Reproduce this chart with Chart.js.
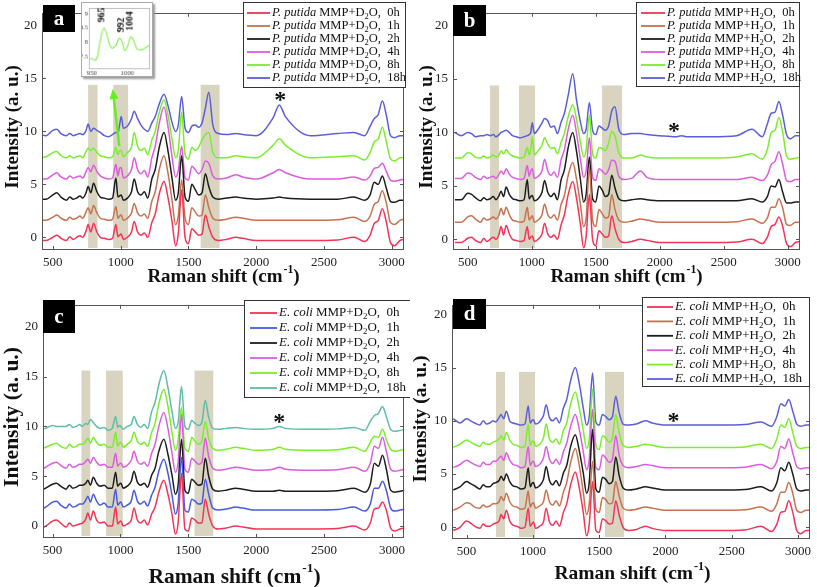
<!DOCTYPE html>
<html><head><meta charset="utf-8">
<script src="https://cdn.jsdelivr.net/npm/chart.js@4.4.1/dist/chart.umd.min.js"></script>
<style>
html,body{margin:0;padding:0;background:#fff;}
#wrap{position:relative;width:817px;height:587px;overflow:hidden;background:#fff;}
canvas{position:absolute;display:block;}
#ca{left:0;top:0;width:410px;height:292px;}
#cb{left:410px;top:0;width:407px;height:292px;}
#cc{left:0;top:292px;width:410px;height:295px;}
#cd{left:410px;top:292px;width:407px;height:295px;}
#ins{left:81px;top:2px;width:72px;height:75px;border:1px solid #aaa;box-shadow:2px 2px 2px #999;background:#fff;z-index:5;}
</style></head><body><div id="wrap">
<canvas id="ca" width="410" height="292"></canvas>
<canvas id="cb" width="407" height="292"></canvas>
<canvas id="cc" width="410" height="295"></canvas>
<canvas id="cd" width="407" height="295"></canvas>
<canvas id="ins" width="72" height="75"></canvas>
</div>
<script>
// ---------- data ----------
const ramanShift = [400,450,500,530,560,600,625,650,675,700,
 720,745,760,780,800,825,850,880,910,940,
 965,980,992,1004,1020,1050,1080,1100,1125,1150,
 1175,1200,1230,1255,1285,1320,1350,1380,1405,1425,
 1450,1475,1500,1525,1550,1575,1600,1625,1650,1680,
 1720,1780,1850,1900,2000,2125,2170,2215,2400,2600,
 2720,2800,2840,2870,2900,2930,2960,2990,3020,3060,3100];
const timeLabels = ['0h','1h','2h','4h','8h','18h'];
const xTickValues = [500,1000,1500,2000,2500,3000];
const yTickValues = [0,5,10,15,20];

// (a) P. putida MMP+D2O
const aRed = [-0.3,-0.3,0.0,0.2,-0.1,-0.3,0.05,-0.2,0.0,0.15, 0.0,0.6,1.2,0.5,1.3,0.5,0.0,-0.1,-0.2,-0.1, 1.2,0.05,0.2,0.3,-0.2,0.0,0.5,1.5,0.5,0.2, 0.4,0.0,1.4,2.2,4.1,5.3,3.7,1.4,-0.8,0.3, 4.5,0.0,-0.6,0.8,0.5,0.2,0.3,2.1,1.0,0.0, -0.3,-0.2,0.0,-0.1,-0.3,-0.3,-0.3,-0.3,-0.3,-0.25, 0.0,-0.4,0.2,1.3,1.6,2.7,1.4,-0.5,-0.8,-0.3,-0.2];
const aBrown = [1.6,1.6,1.9,2.1,1.8,1.6,1.9,1.7,1.8,2.0, 1.8,2.4,2.8,2.2,3.0,2.3,1.8,1.7,1.6,1.7, 2.9,1.8,2.0,2.1,1.6,1.8,2.3,3.2,2.3,2.0, 2.2,1.8,3.4,4.3,6.4,7.7,6.0,3.4,1.2,2.0, 5.4,1.8,1.2,2.8,2.4,2.0,2.1,4.0,2.8,1.8, 1.6,1.7,1.9,1.8,1.6,1.6,1.6,1.6,1.6,1.65, 1.9,1.5,2.0,3.1,3.4,4.4,3.2,1.4,1.2,1.6,1.7];
const aBlack = [3.6,3.6,4.0,4.2,3.8,3.5,3.8,3.6,3.7,3.9, 3.7,4.2,4.8,4.2,5.1,4.3,3.8,3.7,3.6,3.7, 5.6,3.8,3.9,4.0,3.5,3.7,4.3,5.5,4.3,4.0, 4.3,3.7,5.5,6.4,8.5,9.9,8.1,5.5,3.5,4.2, 7.7,3.8,3.4,5.0,4.5,4.0,4.2,6.0,4.8,3.8, 3.6,3.7,3.8,3.7,3.6,3.7,3.8,3.7,3.6,3.6, 3.8,3.5,4.0,5.2,5.0,5.8,4.6,3.4,3.3,3.5,3.5];
const aMagenta = [5.5,5.5,5.9,6.1,5.7,5.5,5.8,5.6,5.7,5.8, 5.6,6.2,6.6,6.2,6.8,6.2,5.8,5.6,5.5,5.6, 6.9,5.8,6.5,6.6,5.6,5.8,6.4,7.5,6.4,6.0, 6.3,5.7,7.5,8.6,10.8,12.3,10.4,7.5,5.7,6.3, 8.6,5.6,5.4,6.7,6.4,6.0,6.4,7.2,7.0,5.8, 5.5,5.6,5.9,5.7,5.5,6.1,6.4,6.1,5.5,5.5, 5.7,5.4,5.8,6.5,6.6,7.0,6.2,5.4,5.3,5.4,5.5];
const aGreen = [7.5,7.6,8.0,8.1,7.7,7.5,7.7,7.5,7.6,7.7, 7.5,8.1,8.4,8.2,8.4,8.0,7.7,7.6,7.5,7.6, 8.5,7.8,8.2,8.2,7.6,8.0,8.5,9.9,8.6,8.2, 8.4,7.8,9.2,10.0,11.8,13.0,11.5,9.2,7.5,8.2, 11.8,7.8,7.4,8.5,8.2,8.5,9.2,9.7,9.9,8.0, 7.5,7.5,7.7,7.6,7.5,8.7,9.3,8.7,7.5,7.6, 7.7,7.3,8.0,9.0,9.3,10.4,9.0,7.4,7.2,7.5,7.5];
const aBlue = [9.7,9.6,10.1,10.2,9.8,9.6,9.8,9.6,9.7,9.8, 9.7,10.1,10.7,10.0,10.3,10.1,9.9,9.6,9.5,9.7, 9.9,9.8,10.6,11.4,10.3,10.5,11.2,11.9,11.2,10.6, 10.2,10.0,10.8,11.4,12.6,13.5,12.4,10.8,10.0,10.6, 13.3,10.3,9.9,10.5,10.6,10.4,10.8,12.2,13.7,10.6, 9.8,9.7,9.8,9.7,9.6,11.3,12.5,11.4,9.6,9.8, 9.9,9.6,10.5,11.2,11.6,12.9,11.5,9.6,9.4,9.6,9.6];

// (b) P. putida MMP+H2O
const bRed = [-0.3,-0.3,0.1,0.2,-0.1,-0.3,0.1,-0.2,0.0,0.2, 0.0,0.5,1.2,0.4,1.3,0.5,0.0,-0.1,-0.2,-0.1, 1.2,0.0,0.2,0.3,-0.2,0.0,0.5,1.5,0.5,0.2, 0.4,0.0,1.4,2.3,4.2,5.4,3.8,1.4,-0.8,0.3, 4.2,0.0,-0.6,0.8,0.5,0.2,0.3,2.2,1.0,0.0, -0.3,-0.2,0.0,-0.1,-0.3,-0.3,-0.3,-0.3,-0.3,-0.25, 0.0,-0.4,0.2,1.2,1.4,2.1,1.2,-0.4,-0.7,-0.3,-0.2];
const bBrown = [1.6,1.6,2.1,2.2,1.9,1.6,2.0,1.8,1.9,2.1, 1.9,2.3,2.9,2.3,3.0,2.3,1.8,1.7,1.6,1.7, 3.0,1.8,2.0,2.2,1.6,1.8,2.3,3.3,2.3,2.0, 2.3,1.8,3.3,4.1,6.0,7.2,5.6,3.3,1.2,2.0, 6.8,1.8,1.2,2.8,2.4,2.0,2.1,4.2,2.8,1.8, 1.6,1.7,1.9,1.8,1.6,1.6,1.6,1.6,1.6,1.65, 1.9,1.5,2.0,3.0,3.0,3.8,2.9,1.4,1.3,1.6,1.6];
const bBlack = [3.7,3.7,4.3,4.2,3.9,3.6,3.9,3.7,3.8,4.0, 3.7,4.1,4.5,4.0,4.9,4.2,3.8,3.7,3.6,3.7, 5.6,3.8,4.0,4.1,3.6,3.8,4.4,5.5,4.4,4.0, 4.3,3.7,5.6,6.5,8.6,10.0,8.2,5.6,3.5,4.2, 7.7,3.8,3.5,5.0,4.6,4.0,4.2,6.0,4.8,3.8, 3.6,3.7,3.8,3.7,3.6,3.6,3.6,3.6,3.6,3.6, 3.8,3.5,4.0,5.0,4.9,5.6,4.4,3.4,3.4,3.5,3.5];
const bMagenta = [5.7,5.7,6.2,6.1,5.8,5.6,5.9,5.7,5.8,5.9, 5.7,6.1,6.4,6.1,6.6,6.1,5.8,5.7,5.6,5.7, 6.9,5.9,6.4,6.6,5.7,5.9,6.4,7.5,6.4,6.0, 6.3,5.8,7.5,8.4,10.3,11.6,9.9,7.5,5.8,6.4, 9.5,5.8,5.5,6.6,6.4,6.1,6.5,7.4,7.3,5.9, 5.6,5.7,6.4,5.8,5.6,5.6,5.6,5.6,5.6,5.6, 5.8,5.5,6.0,7.0,7.3,8.2,7.0,5.5,5.4,5.6,5.6];
const bGreen = [7.6,7.6,8.1,8.0,7.7,7.6,7.8,7.6,7.7,7.9, 7.7,7.9,8.3,8.0,8.4,8.0,7.8,7.7,7.6,7.7, 8.6,7.9,8.4,9.6,7.9,8.3,8.8,9.5,8.9,8.5, 8.6,8.0,9.1,9.9,11.5,12.6,11.2,9.1,7.7,8.4, 11.6,8.0,7.6,8.6,8.5,8.3,9.0,10.1,9.7,8.1, 7.6,7.6,7.9,7.7,7.6,7.6,7.6,7.6,7.6,7.7, 8.0,7.5,8.4,10.0,10.2,11.4,10.0,7.8,7.5,7.6,7.7];
const bBlue = [10.0,9.7,10.0,9.9,9.6,9.7,9.7,9.8,9.7,9.8, 9.6,9.8,10.0,10.1,10.2,10.0,9.7,9.6,9.5,9.6, 9.7,9.8,10.0,10.9,9.9,10.3,10.9,11.3,11.1,10.5, 10.6,9.9,11.0,11.8,13.5,15.5,13.0,11.0,9.9,10.3, 12.8,10.2,9.8,10.6,10.4,10.2,10.6,12.0,12.4,10.3, 9.8,9.9,9.9,9.8,9.7,9.6,9.7,9.6,9.6,9.7, 10.3,9.6,10.8,11.8,11.9,12.9,11.6,9.8,9.4,9.7,9.7];

// (c) E. coli MMP+D2O
const cRed = [-0.3,0.0,0.5,0.6,0.3,-0.1,0.3,0.0,0.1,0.2, 0.3,0.7,1.3,0.6,1.5,0.6,0.3,0.4,0.0,0.0, 1.9,0.2,0.4,0.5,0.0,0.2,0.6,1.8,0.6,0.3, 0.6,0.1,1.2,1.9,3.5,4.6,3.2,1.2,-0.8,0.3, 5.3,-0.3,-0.5,0.8,0.6,0.3,0.3,2.7,1.2,0.0, -0.3,-0.2,0.0,-0.1,-0.3,-0.3,-0.3,-0.3,-0.3,-0.25, 0.0,-0.4,0.3,1.7,1.8,2.4,1.5,-0.2,-0.5,-0.3,-0.2];
const cBlue = [1.6,1.9,2.4,2.5,2.1,1.8,2.2,1.9,2.0,2.2, 2.2,2.6,3.0,2.4,3.2,2.5,2.1,2.3,1.9,1.9, 3.7,2.1,2.3,2.4,1.9,2.1,2.5,3.6,2.5,2.2, 2.5,2.0,3.1,3.9,5.6,6.7,5.3,3.1,1.2,2.2, 6.9,1.6,1.4,2.7,2.5,2.2,2.3,4.7,3.2,1.8, 1.6,1.7,1.9,1.8,1.6,1.6,1.6,1.6,1.6,1.65, 1.9,1.5,2.2,3.8,3.8,4.5,3.5,1.8,1.5,1.6,1.7];
const cBlack = [3.5,3.8,4.2,4.3,4.0,3.7,4.1,3.8,3.9,4.1, 4.1,4.3,4.6,4.1,4.9,4.3,4.0,4.1,3.8,3.8, 5.4,4.0,4.2,4.3,3.8,4.0,4.5,5.5,4.4,4.1, 4.3,3.9,5.1,5.8,7.6,8.7,7.2,5.1,3.2,4.1, 8.7,3.6,3.3,4.7,4.4,4.1,4.2,6.8,5.0,3.7, 3.5,3.6,3.8,3.7,3.5,3.5,3.6,3.5,3.5,3.55, 3.8,3.4,4.2,6.3,6.0,7.1,5.6,3.6,3.4,3.5,3.6];
const cMagenta = [5.6,5.9,6.3,6.4,6.1,5.8,6.2,5.9,6.0,6.2, 6.2,6.5,6.7,6.3,6.9,6.4,6.1,6.2,5.9,5.9, 7.3,6.0,6.2,6.3,5.9,6.1,6.6,7.5,6.5,6.2, 6.4,6.0,7.3,8.2,10.1,11.4,9.8,7.3,5.4,6.4, 11.2,5.7,5.4,6.8,6.5,6.2,6.4,8.8,7.0,5.8, 5.6,5.7,5.9,5.8,5.6,5.7,5.9,5.7,5.6,5.65, 5.9,5.5,6.3,8.0,7.8,8.9,7.4,5.7,5.5,5.6,5.7];
const cGreen = [7.6,7.9,8.2,8.3,8.0,7.8,8.2,7.9,8.0,8.2, 8.2,8.5,8.8,8.3,8.9,8.4,8.1,8.2,7.9,7.9, 9.4,8.0,8.3,8.4,7.9,8.2,8.6,9.4,8.5,8.2, 8.4,8.0,9.4,10.3,12.4,13.7,12.0,9.4,7.6,8.6, 11.9,7.8,7.5,8.9,8.5,8.2,8.5,10.5,8.8,7.8, 7.6,7.7,7.9,7.8,7.6,7.7,7.9,7.7,7.6,7.65, 7.9,7.5,8.4,9.0,8.9,9.7,8.6,7.7,7.5,7.6,7.7];
const cTeal = [9.7,9.8,10.1,10.0,10.0,10.0,10.2,9.9,10.0,10.2, 10.0,10.3,10.2,10.7,10.4,10.0,9.8,9.9,9.6,9.8, 11.0,9.9,10.1,10.0,9.7,10.0,10.2,11.0,10.2,9.9, 10.2,9.8,11.5,12.4,14.3,15.6,13.9,11.5,9.8,10.4, 14.0,10.0,9.7,10.6,10.3,10.1,10.4,12.6,10.9,9.8, 9.7,9.8,9.9,9.8,9.7,9.8,10.0,9.8,9.7,9.75, 9.9,9.6,10.5,11.1,11.3,12.0,10.9,9.7,9.5,9.6,9.7];

// (d) E. coli MMP+H2O
const dRed = [-0.3,0.0,0.6,0.4,0.1,-0.1,0.3,0.1,0.1,0.3, 0.4,0.6,1.2,0.8,1.6,0.6,0.2,0.1,-0.1,0.0, 1.8,0.1,0.3,0.5,-0.1,0.1,0.5,1.8,0.5,0.2, 0.6,0.1,1.4,2.2,4.0,5.2,3.7,1.4,-0.8,0.3, 4.3,-0.3,-0.5,0.8,0.6,0.3,0.4,2.5,1.2,0.0, -0.3,-0.2,0.1,-0.1,-0.3,-0.3,-0.3,-0.3,-0.3,-0.25, 0.1,-0.4,0.3,1.4,1.5,2.5,1.4,-0.3,-0.6,-0.3,-0.3];
const dBrown = [1.6,1.9,2.3,2.2,1.9,1.8,2.1,1.9,2.0,2.2, 2.2,2.4,2.9,2.5,3.2,2.4,2.0,1.9,1.7,1.8, 3.4,1.9,2.2,2.3,1.8,2.0,2.4,3.5,2.4,2.1, 2.5,2.0,3.3,4.2,6.1,7.4,5.8,3.3,1.2,2.2, 6.2,1.7,1.4,2.8,2.6,2.2,2.3,4.3,3.0,1.8, 1.6,1.7,1.9,1.8,1.6,1.6,1.6,1.6,1.6,1.65, 1.9,1.5,2.2,3.3,3.3,4.2,3.2,1.6,1.4,1.6,1.6];
const dBlack = [3.5,3.8,4.3,4.1,3.9,3.6,4.0,3.8,3.8,4.1, 4.2,4.4,4.8,4.4,5.0,4.3,3.9,3.8,3.6,3.7, 5.6,3.8,4.1,4.2,3.7,3.9,4.5,5.7,4.4,4.0, 4.4,3.9,5.1,5.8,7.6,8.7,7.2,5.1,3.2,4.2, 9.2,3.6,3.3,4.7,4.5,4.1,4.3,6.6,4.9,3.7, 3.5,3.6,3.8,3.7,3.5,3.5,3.5,3.5,3.5,3.55, 3.8,3.4,4.2,5.6,5.3,6.1,5.0,3.6,3.4,3.5,3.5];
const dMagenta = [5.6,5.9,6.3,6.1,5.9,5.7,6.1,5.9,5.9,6.2, 6.2,6.5,6.7,6.3,7.0,6.3,5.9,5.8,5.6,5.7, 7.6,5.8,6.1,6.2,5.7,5.9,6.5,7.6,6.4,6.0, 6.4,5.9,7.1,7.9,9.5,10.6,9.2,7.1,5.4,6.4, 11.1,5.6,5.4,6.8,6.5,6.1,6.4,8.6,6.8,5.8, 5.6,5.7,5.9,5.8,5.6,5.6,5.6,5.6,5.6,5.65, 5.9,5.5,6.2,7.6,7.4,8.3,7.0,5.7,5.5,5.6,5.6];
const dGreen = [7.5,7.8,8.2,8.0,7.8,7.6,8.0,7.8,7.8,8.0, 8.1,8.3,8.6,8.2,8.9,8.2,7.8,7.7,7.5,7.6, 9.7,7.7,8.0,8.1,7.6,7.8,8.4,9.7,8.3,8.0, 8.3,7.8,9.1,9.8,11.6,12.7,11.2,9.1,7.4,8.3, 13.0,7.7,7.3,8.6,8.4,8.0,8.4,10.6,8.9,7.7, 7.5,7.6,7.8,7.7,7.5,7.5,7.5,7.5,7.5,7.55, 7.8,7.4,8.3,9.6,9.4,10.2,8.9,7.6,7.4,7.5,7.5];
const dBlue = [10.2,9.8,10.2,10.0,9.8,9.6,10.0,9.7,9.8,10.0, 9.9,10.3,10.6,10.2,10.9,10.0,9.8,9.7,9.6,9.7, 11.4,9.8,10.0,10.1,9.7,9.9,10.5,11.5,10.3,10.0, 10.3,9.8,11.2,12.0,13.8,15.0,13.5,11.2,9.6,10.4, 14.5,9.9,9.6,10.6,10.4,10.1,10.4,12.3,10.8,9.7, 9.6,9.7,10.0,9.8,9.6,9.6,9.6,9.6,9.6,9.65, 9.9,9.5,10.4,11.6,11.4,12.0,10.9,9.7,9.5,9.6,9.6];

// inset of (a): 8h spectrum, 945-1032 cm-1
const insetShift = [945,950,954,958,962,967,971,975,979,984,989,993,996,1000,1005,1009,1013,1017,1022,1027,1032];
const insetGreen = [7.42,7.45,7.38,7.5,8.05,8.5,8.3,7.95,7.8,7.9,8.15,8.0,7.72,7.85,8.2,8.05,7.8,7.74,7.76,7.84,7.92];
const insetPeakLabels = [965,992,1004];
const insetPeakHeights = [8.5,8.15,8.2];
const insetXTicks = [950,1000];
const insetYTicks = [7.5,8,8.5,9];

// ---------- styling ----------
const SERIF = "'Liberation Serif','Times New Roman',serif";
const RED='#f23457', BROWN='#c6714f', BLACK='#1c1c1c', MAG='#dc5cde', GREEN='#7bee2c', BLUE='#5a5fd8', TEAL='#5dbda6', BLUE1='#4759df';
const BAND='#d8d4c0';

function drawXTitle(ctx, cx, cy, fs){
  const a='Raman shift (cm', s='-1', e=')';
  ctx.font=`bold ${fs}px ${SERIF}`; const w1=ctx.measureText(a).width, w3=ctx.measureText(e).width;
  ctx.font=`bold ${fs*0.62}px ${SERIF}`; const w2=ctx.measureText(s).width;
  let x=cx-(w1+w2+w3)/2;
  ctx.textAlign='left'; ctx.textBaseline='middle'; ctx.fillStyle='#111';
  ctx.font=`bold ${fs}px ${SERIF}`; ctx.fillText(a,x,cy); x+=w1;
  ctx.font=`bold ${fs*0.62}px ${SERIF}`; ctx.fillText(s,x+1,cy-fs*0.38); x+=w2+1;
  ctx.font=`bold ${fs}px ${SERIF}`; ctx.fillText(e,x,cy);
}

function makePanel(o){
  const overlay = {
    id:'overlay_'+o.id,
    beforeDatasetsDraw(chart){
      const {ctx, chartArea:a, scales:{x,y}} = chart;
      ctx.save(); ctx.beginPath(); ctx.rect(a.left,a.top,a.width,a.height); ctx.clip();
      ctx.fillStyle=BAND;
      const py=y.getPixelForValue(o.bandTop);
      o.bands.forEach(([b0,b1])=>{
        const p0=x.getPixelForValue(b0), p1=x.getPixelForValue(b1);
        ctx.fillRect(p0,py,p1-p0,a.bottom-py-2);
      });
      ctx.restore();
    },
    afterDatasetsDraw(chart){
      const {ctx, chartArea:a, scales:{x,y}} = chart;
      ctx.save();
      ctx.strokeStyle='#555'; ctx.lineWidth=1;
      ctx.strokeRect(Math.round(a.left)+0.5,Math.round(a.top)+0.5,Math.round(a.width)-1,Math.round(a.height)-1);
      ctx.beginPath();
      xTickValues.forEach(v=>{const p=Math.round(x.getPixelForValue(v))+0.5; ctx.moveTo(p,a.bottom); ctx.lineTo(p,a.bottom-4); ctx.moveTo(p,a.top); ctx.lineTo(p,a.top+4);});
      yTickValues.forEach(v=>{const p=Math.round(y.getPixelForValue(v))+0.5; ctx.moveTo(a.left,p); ctx.lineTo(a.left+4,p); ctx.moveTo(a.right,p); ctx.lineTo(a.right-4,p);});
      ctx.stroke();
      ctx.fillStyle='#111'; ctx.font=`bold 24px ${SERIF}`; ctx.textAlign='center'; ctx.textBaseline='alphabetic';
      ctx.fillText('*', x.getPixelForValue(o.star[0]), y.getPixelForValue(o.star[1])+11);
      if(o.arrow){
        const x0=x.getPixelForValue(o.arrow[0][0]), y0=y.getPixelForValue(o.arrow[0][1]);
        const x1=x.getPixelForValue(o.arrow[1][0]), y1=y.getPixelForValue(o.arrow[1][1]);
        const ang=Math.atan2(y1-y0,x1-x0);
        ctx.strokeStyle='#66ee22'; ctx.fillStyle='#66ee22'; ctx.lineWidth=2.5;
        ctx.beginPath(); ctx.moveTo(x0,y0); ctx.lineTo(x1-7*Math.cos(ang),y1-7*Math.sin(ang)); ctx.stroke();
        ctx.beginPath(); ctx.moveTo(x1,y1);
        ctx.lineTo(x1-10*Math.cos(ang)+4.5*Math.sin(ang), y1-10*Math.sin(ang)-4.5*Math.cos(ang));
        ctx.lineTo(x1-10*Math.cos(ang)-4.5*Math.sin(ang), y1-10*Math.sin(ang)+4.5*Math.cos(ang));
        ctx.closePath(); ctx.fill();
      }
      const L=o.legend;
      ctx.fillStyle='#fff'; ctx.fillRect(L.x,L.y,L.w,L.h);
      ctx.strokeStyle='#333'; ctx.lineWidth=1; ctx.strokeRect(L.x+0.5,L.y+0.5,L.w-1,L.h-1);
      chart.data.datasets.forEach((ds,i)=>{
        const yy=L.row0+i*L.dy;
        ctx.strokeStyle=ds.borderColor; ctx.lineWidth=1.8;
        ctx.beginPath(); ctx.moveTo(L.lx0,yy); ctx.lineTo(L.lx1,yy); ctx.stroke();
        let tx=L.tx; ctx.fillStyle='#111'; ctx.textAlign='left'; ctx.textBaseline='middle';
        ctx.font=`italic ${L.fs}px ${SERIF}`; ctx.fillText(o.species,tx,yy); tx+=ctx.measureText(o.species).width+3;
        ctx.font=`${L.fs}px ${SERIF}`; const t1='MMP+'+o.atom; ctx.fillText(t1,tx,yy); tx+=ctx.measureText(t1).width;
        ctx.font=`${L.fs*0.68}px ${SERIF}`; ctx.fillText('2',tx,yy+4); tx+=ctx.measureText('2').width;
        ctx.font=`${L.fs}px ${SERIF}`; ctx.fillText('O,  '+timeLabels[i],tx,yy);
      });
      const B=o.letterBox;
      ctx.fillStyle='#000'; ctx.fillRect(B[0],B[1],B[2],B[3]);
      ctx.fillStyle='#fff'; ctx.font=`bold 21px ${SERIF}`; ctx.textAlign='center'; ctx.textBaseline='middle';
      ctx.fillText(o.letter,B[0]+B[2]/2,B[1]+B[3]/2+1);
      ctx.restore();
    },
    afterDraw(chart){
      const ctx=chart.ctx; ctx.save();
      ctx.fillStyle='#111'; ctx.font=`bold ${o.titleSize}px ${SERIF}`;
      ctx.translate(o.yTitle[0],o.yTitle[1]); ctx.rotate(-Math.PI/2);
      ctx.textAlign='center'; ctx.textBaseline='middle'; ctx.fillText('Intensity (a. u.)',0,0);
      ctx.restore();
      ctx.save(); drawXTitle(ctx,o.xTitle[0],o.xTitle[1],o.titleSize); ctx.restore();
    }
  };
  const datasets=o.series.map((s,i)=>({
    label:o.species+' MMP+'+o.atom+'2O, '+timeLabels[i],
    data:ramanShift.map((xv,j)=>({x:xv,y:s[j]})),
    borderColor:o.colors[i], borderWidth:1.5, pointRadius:0,
    cubicInterpolationMode:'monotone', fill:false
  }));
  const tickFont={family:SERIF,size:13};
  return new Chart(document.getElementById(o.id),{
    type:'line',
    data:{datasets},
    options:{
      responsive:false, animation:false, devicePixelRatio:1,
      layout:{padding:{left:0,top:o.padTop,right:o.padRight,bottom:0}},
      plugins:{legend:{display:false},tooltip:{enabled:false}},
      scales:{
        x:{type:'linear',min:o.xMin,max:o.xMax,
           afterBuildTicks:s=>{s.ticks=xTickValues.map(v=>({value:v}));},
           afterFit:s=>{s.height=o.xh;},
           grid:{display:false,drawTicks:false},border:{display:false},
           ticks:{font:tickFont,color:'#222',padding:5,maxRotation:0,autoSkip:false,callback:v=>String(v)}},
        y:{type:'linear',min:o.yMin,max:o.yMax,
           afterBuildTicks:s=>{s.ticks=yTickValues.map(v=>({value:v}));},
           afterFit:s=>{s.width=o.yw;},
           grid:{display:false,drawTicks:false},border:{display:false},
           ticks:{font:tickFont,color:'#222',padding:5,callback:v=>String(v)}}
      }
    },
    plugins:[overlay]
  });
}

makePanel({id:'ca',species:'P. putida',atom:'D',series:[aRed,aBrown,aBlack,aMagenta,aGreen,aBlue],
  colors:[RED,BROWN,BLACK,MAG,GREEN,BLUE],xMin:420,xMax:3090,yMin:-1.2,yMax:21.2,yw:42,xh:42,padTop:4,padRight:5,
  bands:[[760,830],[945,1055],[1590,1730]],bandTop:14.4,star:[2177,13.3],letter:'a',letterBox:[43,5,32,27],
  legend:{x:243,y:2,w:163,h:86,row0:13,dy:13,lx0:247,lx1:270,tx:272,fs:12.5},
  titleSize:19,yTitle:[13,127],xTitle:[223,277],arrow:[[990,8.6],[942,14.0]]});
makePanel({id:'cb',species:'P. putida',atom:'H',series:[bRed,bBrown,bBlack,bMagenta,bGreen,bBlue],
  colors:[RED,BROWN,BLACK,MAG,GREEN,BLUE],xMin:385,xMax:3095,yMin:-1.0,yMax:21.2,yw:43,xh:42,padTop:4,padRight:17,
  bands:[[674,744],[901,1026],[1549,1705]],bandTop:14.4,star:[2110,10.5],letter:'b',letterBox:[43,5,33,31],
  legend:{x:226,y:2,w:164,h:85,row0:13,dy:13,lx0:231,lx1:255,tx:257,fs:12.5},
  titleSize:19,yTitle:[17,127],xTitle:[216,277]});
makePanel({id:'cc',species:'E. coli',atom:'D',series:[cRed,cBlue,cBlack,cMagenta,cGreen,cTeal],
  colors:[RED,BLUE1,BLACK,MAG,GREEN,TEAL],xMin:430,xMax:3090,yMin:-1.2,yMax:22.2,yw:43,xh:49,padTop:8,padRight:0,
  bands:[[713,778],[894,1017],[1546,1684]],bandTop:15.6,star:[2170,10.8],letter:'c',letterBox:[43,8,32,33],
  legend:{x:244,y:8,w:170,h:98,row0:21,dy:15,lx0:250,lx1:277,tx:279,fs:13},
  titleSize:21.5,yTitle:[12,125],xTitle:[234,285]});
makePanel({id:'cd',species:'E. coli',atom:'H',series:[dRed,dBrown,dBlack,dMagenta,dGreen,dBlue],
  colors:[RED,BROWN,BLACK,MAG,GREEN,BLUE],xMin:390,xMax:3090,yMin:-1.1,yMax:20.9,yw:42,xh:48,padTop:6,padRight:7,
  bands:[[722,790],[895,1016],[1544,1687]],bandTop:14.6,star:[2060,10.4],letter:'d',letterBox:[43,7,33,30],
  legend:{x:232,y:5,w:168,h:90,row0:15,dy:14.4,lx0:237,lx1:263,tx:265,fs:13},
  titleSize:19.5,yTitle:[11,127],xTitle:[222,282]});

// inset
new Chart(document.getElementById('ins'),{
  type:'line',
  data:{datasets:[{data:insetShift.map((xv,i)=>({x:xv,y:insetGreen[i]})),borderColor:'#88ee55',borderWidth:1.2,pointRadius:0,cubicInterpolationMode:'monotone',fill:false}]},
  options:{responsive:false,animation:false,devicePixelRatio:1,
    layout:{padding:{left:0,top:5,right:2,bottom:0}},
    plugins:{legend:{display:false},tooltip:{enabled:false}},
    scales:{
      x:{type:'linear',min:946,max:1032,afterBuildTicks:s=>{s.ticks=insetXTicks.map(v=>({value:v}));},afterFit:s=>{s.height=7;},
         grid:{display:false,drawTicks:false},border:{display:false},ticks:{font:{family:SERIF,size:7},color:'#444',padding:0,maxRotation:0,autoSkip:false,callback:v=>String(v)}},
      y:{type:'linear',min:7.07,max:9.2,afterBuildTicks:s=>{s.ticks=insetYTicks.map(v=>({value:v}));},afterFit:s=>{s.width=7;},
         grid:{display:false,drawTicks:false},border:{display:false},ticks:{font:{family:SERIF,size:6.5},color:'#444',padding:1,autoSkip:false,callback:v=>String(v)}}
    }},
  plugins:[{id:'insetDeco',
    afterDatasetsDraw(chart){
      const {ctx,chartArea:a,scales:{x,y}}=chart; ctx.save();
      ctx.strokeStyle='#bbb'; ctx.lineWidth=1;
      ctx.strokeRect(Math.round(a.left)+0.5,Math.round(a.top)+0.5,Math.round(a.width)-1,Math.round(a.height)-1);
      ctx.fillStyle='#111'; ctx.font=`bold 10px ${SERIF}`; ctx.textAlign='left'; ctx.textBaseline='middle';
      insetPeakLabels.forEach((v,i)=>{
        const px=x.getPixelForValue(v), py=y.getPixelForValue(insetPeakHeights[i])-6;
        ctx.save(); ctx.translate(px,py); ctx.rotate(-Math.PI/2); ctx.fillText(String(v),0,0); ctx.restore();
      });
      ctx.restore();
    }}]
});
</script>
</body></html>
